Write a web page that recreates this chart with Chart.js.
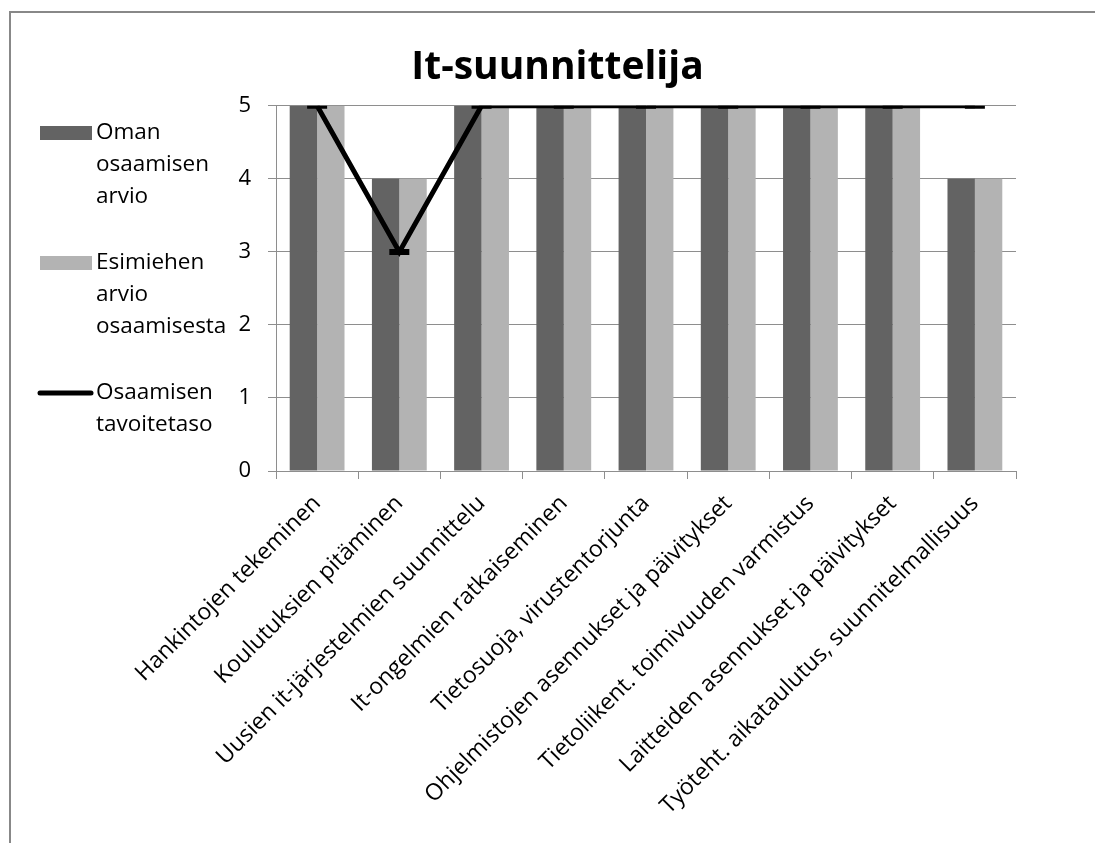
<!DOCTYPE html>
<html>
<head>
<meta charset="utf-8">
<style>
  html, body { margin: 0; padding: 0; background: #fff; }
  #wrap { width: 1095px; height: 843px; }
</style>
<script src="https://cdn.jsdelivr.net/npm/chart.js@4/dist/chart.umd.min.js"></script>
</head>
<body>
<div id="wrap"><canvas id="chart" width="1095" height="843"></canvas></div>
<script>
// Osaamisalueet (x-akseli)
const categories = [
  'Hankintojen tekeminen',
  'Koulutuksien pitäminen',
  'Uusien it-järjestelmien suunnittelu',
  'It-ongelmien ratkaiseminen',
  'Tietosuoja, virustentorjunta',
  'Ohjelmistojen asennukset ja päivitykset',
  'Tietoliikent. toimivuuden varmistus',
  'Laitteiden asennukset ja päivitykset',
  'Työteht. aikataulutus, suunnitelmallisuus'
];

// Sarjat
const omanArvio     = [5, 4, 5, 5, 5, 5, 5, 5, 4];
const esimiesArvio  = [5, 4, 5, 5, 5, 5, 5, 5, 4];
const tavoitetaso   = [5, 3, 5, 5, 5, 5, 5, 5, 5];

const seriesNames = ['Oman osaamisen arvio', 'Esimiehen arvio osaamisesta', 'Osaamisen tavoitetaso'];
const chartTitle = 'It-suunnittelija';

const FONT = '"Open Sans", "Liberation Sans", sans-serif';
const GRID = '#8e8e8e';

// Kehys kaavion ympärillä
const framePlugin = {
  id: 'frame',
  beforeDraw(chart) {
    const ctx = chart.ctx;
    ctx.save();
    ctx.fillStyle = '#fff';
    ctx.fillRect(0, 0, chart.width, chart.height);
    ctx.strokeStyle = '#888';
    ctx.lineWidth = 2;
    ctx.beginPath();
    ctx.moveTo(10, chart.height + 5);
    ctx.lineTo(10, 12);
    ctx.lineTo(chart.width + 5, 12);
    ctx.stroke();
    ctx.restore();
  }
};

// Selite vasemmalla, rivitetty teksti
const sideLegend = {
  id: 'sideLegend',
  afterDraw(chart) {
    const ctx = chart.ctx;
    const ds = chart.data.datasets;
    const fontSize = 22.5;
    const lineGap = 32;
    const itemGap = 130;
    const firstY = 133;
    const textX = 96;
    const maxW = 145;
    ctx.save();
    ctx.font = fontSize + 'px ' + FONT;
    ctx.textBaseline = 'middle';
    ctx.textAlign = 'left';
    ds.forEach((d, i) => {
      const y0 = firstY + i * itemGap;
      // swatch
      if (d.type === 'line') {
        ctx.strokeStyle = d.borderColor;
        ctx.lineWidth = 5;
        ctx.lineCap = 'round';
        ctx.beginPath();
        ctx.moveTo(40, y0);
        ctx.lineTo(91, y0);
        ctx.stroke();
      } else {
        ctx.fillStyle = d.backgroundColor;
        ctx.fillRect(40, y0 - 7, 52, 14);
      }
      // wrapped label
      const words = d.label.split(' ');
      const lines = [];
      let cur = '';
      words.forEach(w => {
        const test = cur ? cur + ' ' + w : w;
        if (cur && ctx.measureText(test).width > maxW) {
          lines.push(cur);
          cur = w;
        } else {
          cur = test;
        }
      });
      if (cur) lines.push(cur);
      ctx.fillStyle = '#000';
      lines.forEach((ln, k) => ctx.fillText(ln, textX, y0 + k * lineGap));
    });
    ctx.restore();
  }
};

function draw() {
  new Chart(document.getElementById('chart'), {
    data: {
      labels: categories,
      datasets: [
        {
          type: 'bar',
          label: seriesNames[0],
          data: omanArvio,
          backgroundColor: '#636363',
          order: 1,
          categoryPercentage: 2 / 3,
          barPercentage: 1
        },
        {
          type: 'bar',
          label: seriesNames[1],
          data: esimiesArvio,
          backgroundColor: '#b3b3b3',
          order: 2,
          categoryPercentage: 2 / 3,
          barPercentage: 1
        },
        {
          type: 'line',
          label: seriesNames[2],
          data: tavoitetaso,
          borderColor: '#000',
          backgroundColor: '#000',
          borderWidth: 5,
          tension: 0,
          fill: false,
          pointStyle: 'line',
          pointRadius: 10,
          pointHoverRadius: 10,
          pointBorderWidth: 6,
          pointBorderColor: '#000',
          order: 0
        }
      ]
    },
    options: {
      responsive: false,
      animation: false,
      events: [],
      layout: { padding: { left: 99, right: 79, top: 44, bottom: 0 } },
      plugins: {
        legend: { display: false },
        tooltip: { enabled: false },
        title: {
          display: true,
          text: chartTitle,
          color: '#000',
          font: { family: FONT, size: 39, weight: 'bold' },
          padding: { top: 0, bottom: 15 }
        }
      },
      scales: {
        x: {
          offset: true,
          grid: {
            offset: true,
            drawOnChartArea: false,
            drawTicks: true,
            tickLength: 8,
            color: GRID,
            lineWidth: 1
          },
          border: { color: GRID, width: 1 },
          ticks: {
            autoSkip: false,
            minRotation: 45,
            maxRotation: 45,
            color: '#000',
            padding: 11,
            font: { family: FONT, size: 23 }
          },
          afterFit(s) { s.height = 372; }
        },
        y: {
          min: 0,
          max: 5,
          grid: {
            color: GRID,
            lineWidth: 1,
            tickLength: 8
          },
          border: { color: GRID, width: 1 },
          ticks: {
            stepSize: 1,
            color: '#000',
            padding: 17,
            font: { family: FONT, size: 22 }
          },
          afterFit(s) { s.width = 177; }
        }
      }
    },
    plugins: [framePlugin, sideLegend]
  });
}

Promise.all([
  document.fonts.load('23px "Open Sans"'),
  document.fonts.load('bold 39px "Open Sans"')
]).then(draw, draw);
</script>
</body>
</html>
